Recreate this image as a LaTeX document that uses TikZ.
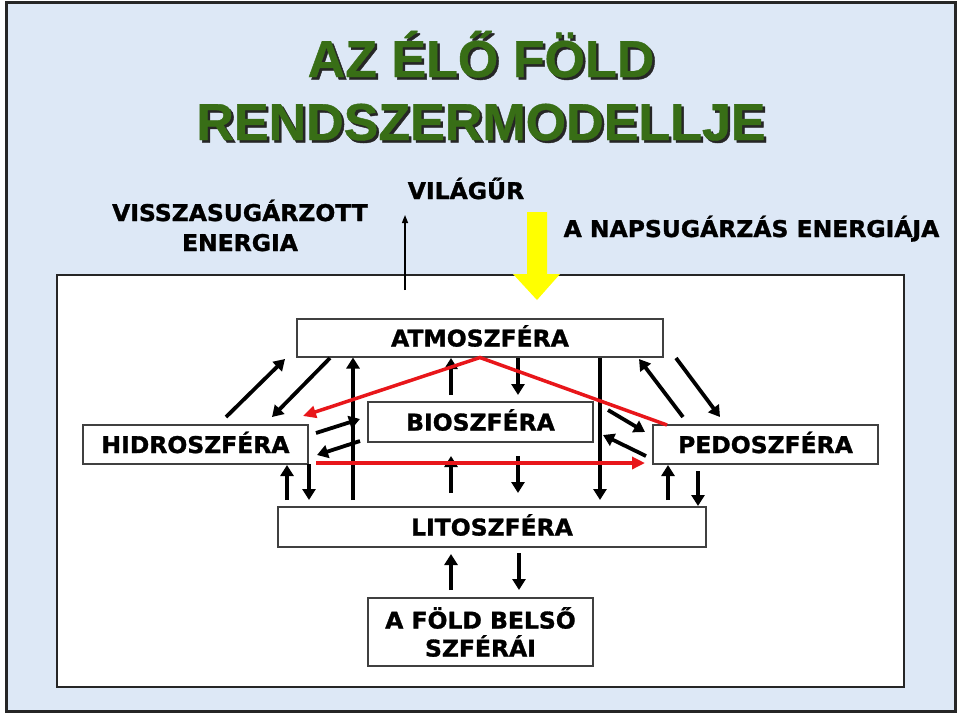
\documentclass[tikz,border=0pt]{standalone}
\usepackage{fontspec}
\setmainfont{DejaVu Sans}
\newfontfamily\labfont{DejaVu Sans}[FakeStretch=1.02,BoldFeatures={FakeBold=1.3}]
\newfontfamily\titlefont{Liberation Sans}[BoldFeatures={FakeBold=0.8}]
\usetikzlibrary{arrows.meta,calc}
\definecolor{bgblue}{RGB}{221,232,246}
\definecolor{titlegreen}{RGB}{56,110,22}
\definecolor{arrred}{RGB}{232,22,26}
\definecolor{sunyellow}{RGB}{255,255,0}
\begin{document}
\begin{tikzpicture}[x=1pt,y=-1pt,
  box/.style={draw=black!75,line width=1.1pt,fill=white,inner sep=0pt,
    font=\labfont\bfseries\fontsize{23}{28}\selectfont,align=center,
    text height=17pt,text depth=0pt},
  arr/.style={line width=3.8pt,-{Triangle[length=11pt,width=13pt]}},
  redarr/.style={draw=arrred,line width=3.5pt,line join=miter,-{Triangle[length=13pt,width=12pt]}},
  thinarr/.style={line width=1.4pt,-{Triangle[length=8pt,width=6pt]}},
  lab/.style={font=\labfont\bfseries\fontsize{23}{30}\selectfont,align=center,inner sep=0pt},
  ttl/.style={font=\titlefont\bfseries\fontsize{52}{60}\selectfont,inner sep=0pt,anchor=base}
]
\useasboundingbox (0,0) rectangle (960,716);
\fill[white] (0,0) rectangle (960,716);
\draw[fill=bgblue,line width=3pt,draw=black!85] (6.5,2.5) rectangle (955,711);

% title (dark shadow, then green text)
\node[ttl,text=black!85] (t1s) at (483.5,79.5) {AZ ÉLŐ FÖLD};
\node[ttl,text=titlegreen] (t1) at (481,77) {AZ ÉLŐ FÖLD};
\node[ttl,text=black!85] (t2s) at (483.5,142.5) {RENDSZERMODELLJE};
\node[ttl,text=titlegreen] (t2) at (481,140) {RENDSZERMODELLJE};

% labels above
\node[lab,anchor=base] (vissza) at (240,251) {VISSZASUGÁRZOTT\\ENERGIA};
\node[lab,anchor=base] (vilagur) at (466,199) {VILÁGŰR};
\node[lab,anchor=base] (napsug) at (751.5,237) {A NAPSUGÁRZÁS ENERGIÁJA};

% inner frame
\draw[fill=white,line width=1.5pt,draw=black!85] (57,275) rectangle (904,687);

% yellow sun arrow
\fill[sunyellow] (527,212) -- (547,212) -- (547,274) -- (560,274) -- (537,300)
  -- (513,274) -- (527,274) -- cycle;

% thin arrow to space
\coordinate (th0) at (405,290);
\coordinate (th1) at (405,215);
\draw[thinarr] (th0) -- (th1);

% boxes
\node[box,minimum width=366pt,minimum height=38pt] (atm) at (480,338) {ATMOSZFÉRA};
\node[box,minimum width=225pt,minimum height=40pt] (bio) at (480.5,422) {BIOSZFÉRA};
\node[box,minimum width=225pt,minimum height=39pt] (hid) at (195.5,444.5) {HIDROSZFÉRA};
\node[box,minimum width=225pt,minimum height=39pt] (ped) at (765.5,444.5) {PEDOSZFÉRA};
\node[box,minimum width=428pt,minimum height=40pt] (lit) at (492,527) {LITOSZFÉRA};
\node[box,minimum width=225pt,minimum height=68pt,text height=,text depth=,
  font=\labfont\bfseries\fontsize{23}{28}\selectfont] (bel) at (480.5,632) {A FÖLD BELSŐ\\SZFÉRÁI};

% coordinates of free arrow ends
\coordinate (a1s) at (226,417); \coordinate (a1e) at (285,359);
\coordinate (a2s) at (330,358); \coordinate (a2e) at (272,417);
\coordinate (a3s) at (353,500); \coordinate (a3e) at (353,357.5);
\coordinate (a4s) at (316,433); \coordinate (a4e) at (360,419);
\coordinate (a5s) at (360,441); \coordinate (a5e) at (317,455);
\coordinate (a6s) at (287,500); \coordinate (a6e) at (287,465);
\coordinate (a7s) at (309,464); \coordinate (a7e) at (309,500);
\coordinate (a8s) at (451,395); \coordinate (a8e) at (451,358);
\coordinate (a9s) at (518,358); \coordinate (a9e) at (518,395);
\coordinate (a10s) at (451,493); \coordinate (a10e) at (451,456);
\coordinate (a11s) at (518,456); \coordinate (a11e) at (518,493);
\coordinate (a12s) at (600,357.5); \coordinate (a12e) at (600,500);
\coordinate (a13s) at (683,417); \coordinate (a13e) at (639,359);
\coordinate (a14s) at (676,358); \coordinate (a14e) at (720,417);
\coordinate (a15s) at (608,410); \coordinate (a15e) at (645,432);
\coordinate (a16s) at (646,456); \coordinate (a16e) at (603,435);
\coordinate (a17s) at (668,500); \coordinate (a17e) at (668,465);
\coordinate (a18s) at (698,471); \coordinate (a18e) at (698,506);
\coordinate (a19s) at (451,590); \coordinate (a19e) at (451,554);
\coordinate (a20s) at (519,553); \coordinate (a20e) at (519,590);
\coordinate (r1s) at (667,425); \coordinate (r1e) at (303,416);
\coordinate (r2s) at (316,463); \coordinate (r2e) at (645,463);

\foreach \i in {1,...,20} {\draw[arr] (a\i s) -- (a\i e);}

% red arrows
\draw[redarr] (r1s) -- (atm.south) -- (r1e);
\draw[redarr] (r2s) -- (r2e);
\end{tikzpicture}
\end{document}
